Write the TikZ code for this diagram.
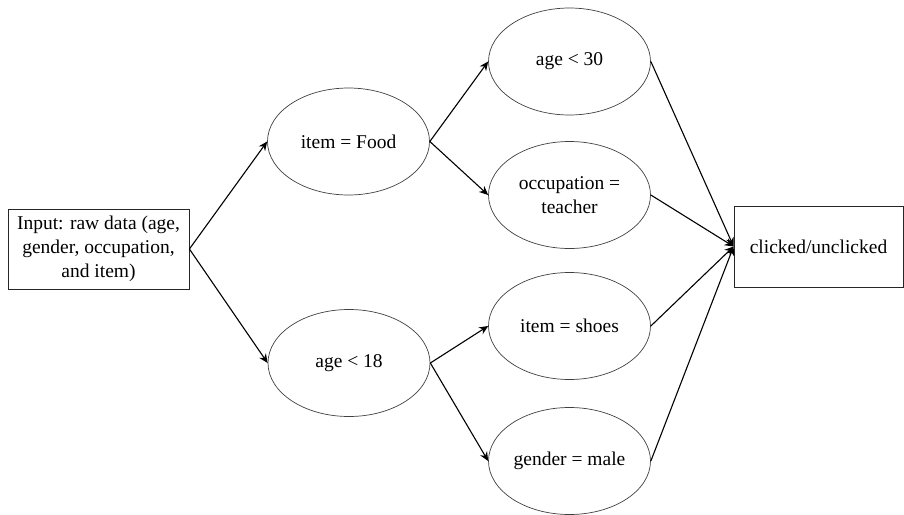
\documentclass[tikz,border=0pt]{standalone}
\usepackage{fontspec}
\setmainfont{Liberation Serif}
\usetikzlibrary{shapes.geometric,arrows.meta}
\begin{document}
\begin{tikzpicture}[x=1pt,y=-1pt,
  txt/.style={font=\fontsize{19.5}{23.7}\selectfont, align=center, inner sep=0pt},
  oval/.style={txt, ellipse, draw=black!75, line width=0.7pt, minimum width=162pt, minimum height=107pt},
  boxnode/.style={txt, rectangle, draw=black!85, line width=0.8pt},
  conn/.style={line width=1.1pt, -{Stealth[length=9pt,width=8pt]}},
  plain/.style={line width=1.1pt}]
\useasboundingbox (0,0) rectangle (904,514);
\node[boxnode, minimum width=181pt, minimum height=80pt] (in) at (98.5,249) {Input: raw data (age,\\gender, occupation,\\and item)};
\node[boxnode, minimum width=169pt, minimum height=81pt] (out) at (818.5,246.5) {clicked/unclicked};
\node[oval] (food) at (348.5,141.5) {item = Food};
\node[oval] (a18) at (349,363) {age \textless{} 18};
\node[oval] (a30) at (569.5,61.5) {age \textless{} 30};
\node[oval] (occ) at (569.5,195) {occupation =\\teacher};
\node[oval] (shoes) at (569.5,326) {item = shoes};
\node[oval] (male) at (569.5,461) {gender = male};
\draw[conn] (in.east) -- (food.west);
\draw[conn] (in.east) -- (a18.west);
\draw[conn] (food.east) -- (a30.west);
\draw[conn] (food.east) -- (occ.west);
\draw[conn] (a18.east) -- (shoes.west);
\draw[conn] (a18.east) -- (male.west);
\draw[conn] (a30.east) -- (out.west);
\draw[conn] (occ.east) -- (out.west);
\draw[conn] (shoes.east) -- (out.west);
\draw[conn] (male.east) -- (out.west);
\end{tikzpicture}
\end{document}
